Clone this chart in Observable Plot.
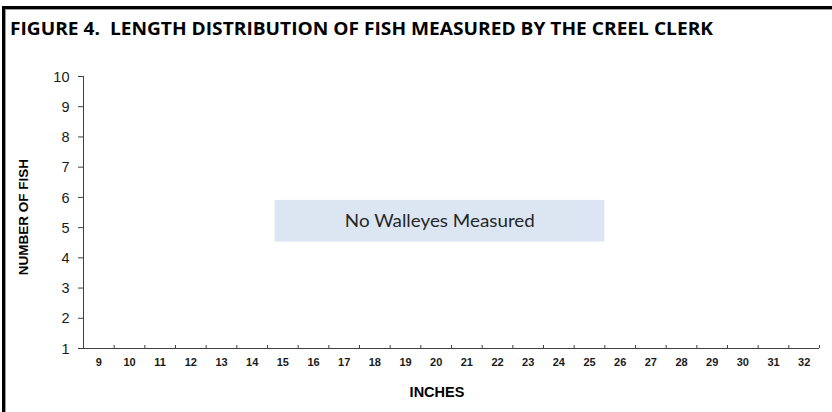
<!DOCTYPE html>
<html>
<head>
<meta charset="utf-8">
<script src="https://cdn.jsdelivr.net/npm/d3@7"></script>
<script src="https://cdn.jsdelivr.net/npm/@observablehq/plot@0.6"></script>
<style>
  body { margin: 0; background: #fff; }
  #wrap { position: relative; width: 832px; height: 412px; overflow: hidden; background: #fff; }
  #frame { position: absolute; left: 2px; top: 6px; width: 850px; height: 430px;
           border-top: 3px solid #000; border-left: 3px solid #000;
           box-shadow: inset 1px 1px 0 #9a9a9a; box-sizing: border-box; }
  #title { position: absolute; left: 10px; top: 19px; white-space: pre;
           font-family: "Open Sans", "Liberation Sans", Arial, sans-serif;
           font-weight: bold; font-size: 18px; line-height: 18px; color: #000;
           transform-origin: 0 0; }
  #chart { position: absolute; left: 0; top: 0; }
</style>
</head>
<body>
<div id="wrap">
  <div id="frame"></div>
  <div id="chart"></div>
  <div id="title"></div>
</div>
<script>
// ---- data ----
const titleText = "FIGURE 4.  LENGTH DISTRIBUTION OF FISH MEASURED BY THE CREEL CLERK";
const xTitle = "INCHES";
const yTitle = "NUMBER OF FISH";
const note = "No Walleyes Measured";
const categories = [9, 10, 11, 12, 13, 14, 15, 16, 17, 18, 19, 20, 21, 22, 23, 24, 25, 26, 27, 28, 29, 30, 31, 32];
const counts     = [0, 0, 0, 0, 0, 0, 0, 0, 0, 0, 0, 0, 0, 0, 0, 0, 0, 0, 0, 0, 0, 0, 0, 0];
const yTicks = [1, 2, 3, 4, 5, 6, 7, 8, 9, 10];

const data = categories.map((c, i) => ({inches: c, count: counts[i]}));
const xMin = categories[0] - 0.5;
const xMax = categories[categories.length - 1] + 0.5;
const boundaries = categories.map(c => c + 0.5);

document.getElementById("title").textContent = titleText;

const chart = Plot.plot({
  width: 832,
  height: 412,
  marginLeft: 83,
  marginRight: 13,
  marginTop: 76,
  marginBottom: 64,
  style: {background: "transparent", fontFamily: "'Liberation Sans', Arial, sans-serif", overflow: "visible"},
  x: {type: "linear", domain: [xMin, xMax]},
  y: {type: "linear", domain: [yTicks[0], yTicks[yTicks.length - 1]]},
  marks: [
    Plot.rect([note], {x1: 14.75, x2: 25.5, y1: 4.52, y2: 5.9, fill: "#dce6f2"}),
    Plot.text([note], {x: 20.12, y: 5.2, text: d => d, fontFamily: "Lato, 'Liberation Sans', sans-serif",
      fontSize: 17, fill: "#262626", className: "notelabel"}),
    Plot.rectY(data.filter(d => d.count > 0), {x1: d => d.inches - 0.4, x2: d => d.inches + 0.4, y1: yTicks[0], y2: "count", fill: "#4f81bd"}),
    // y axis: tick marks + labels
    Plot.axisY({ticks: yTicks, tickSize: 5, tickFormat: () => "", label: null, stroke: "#404040"}),
    Plot.text(yTicks, {x: xMin, y: d => d, text: d => String(d), textAnchor: "end", lineAnchor: "middle",
      dx: -14, dy: 0.5, fontSize: 14.5, fill: "#1a1a1a"}),
    // x axis: boundary tick marks + category labels
    Plot.axisX({ticks: boundaries, tickSize: 3, dy: -3, tickFormat: () => "", label: null, stroke: "#404040"}),
    Plot.text(categories, {x: d => d, y: yTicks[0], text: d => String(d), textAnchor: "middle", lineAnchor: "middle",
      dy: 13.5, fontSize: 11, fontWeight: "bold", fill: "#1a1a1a"}),
    Plot.ruleX([xMin], {stroke: "#404040"}),
    Plot.ruleY([yTicks[0]], {stroke: "#404040"}),
    Plot.text([yTitle], {text: d => d, frameAnchor: "left", rotate: -90, dx: -59.5, dy: 4.5,
      textAnchor: "middle", lineAnchor: "middle", fontWeight: "bold", fontSize: 13.5, fill: "#000"}),
    Plot.text([xTitle], {text: d => d, frameAnchor: "bottom", dx: -14.5, dy: 44,
      textAnchor: "middle", lineAnchor: "middle", fontWeight: "bold", fontSize: 14.5, fill: "#000"})
  ]
});
document.getElementById("chart").appendChild(chart);

// fit text widths to the reference layout
const t = document.getElementById("title");
const tw = t.getBoundingClientRect().width;
t.style.transform = `scaleX(${703 / tw})`;
const nl = chart.querySelector(".notelabel text");
if (nl) { nl.setAttribute("textLength", 190); nl.setAttribute("lengthAdjust", "spacingAndGlyphs"); }
</script>
</body>
</html>
